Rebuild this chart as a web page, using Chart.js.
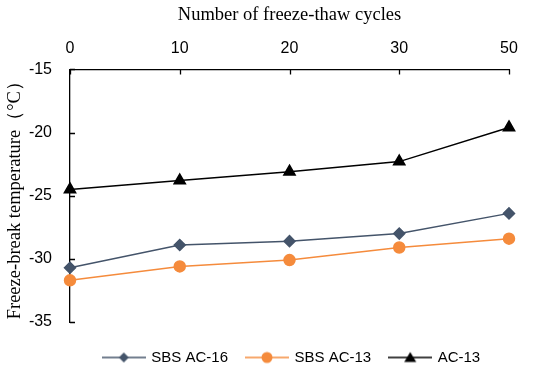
<!DOCTYPE html>
<html>
<head>
<meta charset="utf-8">
<script src="https://cdn.jsdelivr.net/npm/chart.js@4/dist/chart.umd.min.js"></script>
<style>
  html, body { margin: 0; padding: 0; background: #fff; }
  #wrap { width: 550px; height: 370px; }
</style>
</head>
<body>
<div id="wrap"><canvas id="myChart" width="550" height="370"></canvas></div>
<script>
const cycles = ['0', '10', '20', '30', '50']
const sbsAc16 = [-30.7, -28.9, -28.6, -28.0, -26.4]
const sbsAc13 = [-31.7, -30.6, -30.1, -29.1, -28.4]
const ac13 = [-24.5, -23.8, -23.1, -22.3, -19.6]
const yTicks = [-35, -30, -25, -20, -15]

// legend swatch: short line with the marker in the middle
function swatch(color, style) {
    const c = document.createElement('canvas')
    c.width = 44
    c.height = 14
    const g = c.getContext('2d')
    g.strokeStyle = color
    g.fillStyle = color
    g.lineWidth = 1.5
    g.beginPath()
    g.moveTo(0, 7)
    g.lineTo(44, 7)
    g.stroke()
    g.beginPath()
    if (style === 'diamond') {
        g.moveTo(22, 2); g.lineTo(27, 7); g.lineTo(22, 12); g.lineTo(17, 7)
    } else if (style === 'circle') {
        g.arc(22, 7, 5.5, 0, Math.PI * 2)
    } else {
        g.moveTo(22, 1.5); g.lineTo(28, 11.5); g.lineTo(16, 11.5)
    }
    g.closePath()
    g.fill()
    return c
}

const swatches = [
    swatch('#44546A', 'diamond'),
    swatch('#F58B3C', 'circle'),
    swatch('#000000', 'triangle')
]

// tick marks drawn inward, like the original figure
const innerTicks = {
    id: 'innerTicks',
    afterDraw(chart) {
        const ctx = chart.ctx
        const x = chart.scales.x
        const y = chart.scales.y
        ctx.save()
        ctx.strokeStyle = '#000'
        ctx.lineWidth = 1.3
        ctx.beginPath()
        x.ticks.forEach((t, i) => {
            const px = Math.round(x.getPixelForTick(i)) + 0.5
            ctx.moveTo(px, x.bottom)
            ctx.lineTo(px, x.bottom + 5)
        })
        y.ticks.forEach((t, i) => {
            const py = Math.round(y.getPixelForTick(i)) + 0.5
            ctx.moveTo(y.right, py)
            ctx.lineTo(y.right + 5, py)
        })
        ctx.stroke()
        ctx.restore()
    }
}

// move the legend under the plot like in the figure
const legendShift = {
    id: 'legendShift',
    afterLayout(chart) {
        const lg = chart.legend
        const dx = 292 - (lg.left + lg.right) / 2
        const dy = 353 - (lg.top + lg.bottom) / 2
        lg.left += dx
        lg.right += dx
        lg.top += dy
        lg.bottom += dy
    }
}

const tickFont = { family: '"Liberation Sans", Arial, sans-serif', size: 16 }
const legendFont = { family: '"Liberation Sans", Arial, sans-serif', size: 15 }
const titleFont = { family: '"Liberation Serif", "Times New Roman", serif', size: 18.5 }

const ctx = document.getElementById('myChart').getContext('2d')

const myChart = new Chart(ctx, {
    type: 'line',
    data: {
        labels: cycles,
        datasets: [
            {
                label: 'SBS AC-16',
                data: sbsAc16,
                borderColor: '#44546A',
                backgroundColor: '#44546A',
                borderWidth: 1.5,
                pointStyle: 'rectRot',
                pointRadius: 5.5,
                pointHoverRadius: 5.5
            },
            {
                label: 'SBS AC-13',
                data: sbsAc13,
                borderColor: '#F58B3C',
                backgroundColor: '#F58B3C',
                borderWidth: 1.5,
                pointStyle: 'circle',
                pointRadius: 5.5,
                pointHoverRadius: 5.5
            },
            {
                label: 'AC-13',
                data: ac13,
                borderColor: '#000000',
                backgroundColor: '#000000',
                borderWidth: 1.5,
                pointStyle: 'triangle',
                pointRadius: 6.5,
                pointHoverRadius: 6.5
            }
        ]
    },
    options: {
        responsive: false,
        animation: false,
        layout: {
            padding: { left: 4, right: 41, top: 4, bottom: 4 }
        },
        scales: {
            x: {
                position: 'top',
                offset: false,
                grid: { display: false, drawTicks: false },
                border: { display: true, color: '#000', width: 1.3 },
                ticks: { font: tickFont, color: '#000', padding: 11, maxRotation: 0 },
                title: {
                    display: true,
                    text: 'Number of freeze-thaw cycles',
                    font: titleFont,
                    color: '#000',
                    padding: { top: 0, bottom: 2 }
                }
            },
            y: {
                min: -35,
                max: -15,
                afterBuildTicks(scale) {
                    scale.ticks = yTicks.map(v => ({ value: v }))
                },
                afterFit(scale) {
                    scale.width = 66
                },
                grid: { display: false, drawTicks: false },
                border: { display: true, color: '#000', width: 1.3 },
                ticks: { font: tickFont, color: '#000', padding: 18 },
                title: {
                    display: true,
                    text: 'Freeze-break temperature（°C）',
                    font: titleFont,
                    color: '#000',
                    padding: { top: 0, bottom: 2 }
                }
            }
        },
        plugins: {
            legend: {
                position: 'bottom',
                labels: {
                    font: legendFont,
                    color: '#000',
                    usePointStyle: true,
                    pointStyleWidth: 40,
                    boxHeight: 14,
                    padding: 19,
                    generateLabels(chart) {
                        return chart.data.datasets.map((ds, i) => ({
                            text: ds.label,
                            datasetIndex: i,
                            pointStyle: swatches[i],
                            fillStyle: ds.backgroundColor,
                            strokeStyle: ds.borderColor,
                            lineWidth: 0,
                            fontColor: '#000',
                            hidden: false
                        }))
                    }
                }
            },
            tooltip: { enabled: false }
        }
    },
    plugins: [innerTicks, legendShift]
})
</script>
</body>
</html>
